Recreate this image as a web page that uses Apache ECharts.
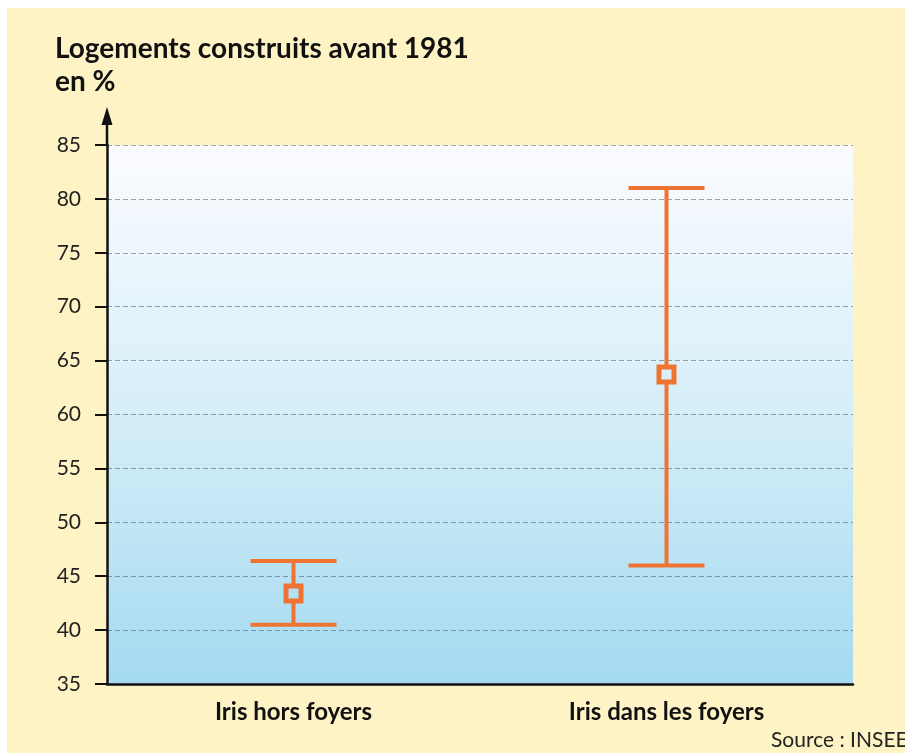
<!DOCTYPE html>
<html>
<head>
<meta charset="utf-8">
<title>Logements construits avant 1981</title>
<script src="https://cdn.jsdelivr.net/npm/echarts@6/dist/echarts.min.js"></script>
<style>
  html, body { margin: 0; padding: 0; background: #ffffff; }
  #chart { width: 905px; height: 753px; }
</style>
</head>
<body>
<div id="chart"></div>
<script>
// données
const categories = ['Iris hors foyers', 'Iris dans les foyers']
const lowValues = [40.5, 46.0]
const highValues = [46.4, 81.0]
const meanValues = [43.4, 63.7]
const yTicks = [35, 40, 45, 50, 55, 60, 65, 70, 75, 80, 85]

const orange = '#ef7433'
const yellow = '#fdf3c4'
const font = 'Lato, "Open Sans", sans-serif'
const capHalf = [43, 38] // demi-largeur des barres horizontales

const chart = echarts.init(document.getElementById('chart'))

const renderItem = (params, api) => {
  const i = api.value(0)
  const x = api.coord([i, 0])[0]
  const yLow = api.coord([i, api.value(1)])[1]
  const yHigh = api.coord([i, api.value(2)])[1]
  const yMean = api.coord([i, api.value(3)])[1]
  const half = capHalf[params.dataIndex]
  const sq = 15
  const lineStyle = { stroke: orange, lineWidth: 4 }
  return {
    type: 'group',
    children: [
      { type: 'line', shape: { x1: x, y1: yHigh, x2: x, y2: yMean - sq / 2 }, style: lineStyle },
      { type: 'line', shape: { x1: x, y1: yMean + sq / 2, x2: x, y2: yLow }, style: lineStyle },
      { type: 'line', shape: { x1: x - half, y1: yHigh, x2: x + half, y2: yHigh }, style: lineStyle },
      { type: 'line', shape: { x1: x - half, y1: yLow, x2: x + half, y2: yLow }, style: lineStyle },
      {
        type: 'rect',
        shape: { x: x - sq / 2, y: yMean - sq / 2, width: sq, height: sq },
        style: { fill: 'none', stroke: orange, lineWidth: 5 },
      },
    ],
  }
}

const option = {
  backgroundColor: 'transparent',
  animation: false,
  graphic: [
    {
      type: 'rect',
      z: -10,
      silent: true,
      shape: { x: 7, y: 8, width: 905, height: 753 },
      style: { fill: yellow },
    },
    {
      type: 'text',
      left: 55,
      top: 32,
      style: {
        text: 'Logements construits avant 1981\nen %',
        font: 'bold 28px ' + font,
        fill: '#111',
        lineHeight: 33,
      },
    },
    {
      type: 'text',
      left: 771,
      top: 730,
      style: { text: 'Source : INSEE', font: '21px ' + font, fill: '#222' },
    },
    // prolongement de l'axe vertical et flèche
    {
      type: 'line',
      shape: { x1: 107, y1: 146, x2: 107, y2: 120 },
      style: { stroke: '#111', lineWidth: 2.5 },
    },
    {
      type: 'polygon',
      shape: { points: [[107, 107], [101.5, 125], [112.5, 125]] },
      style: { fill: '#111' },
    },
  ],
  grid: {
    left: 107,
    right: 52,
    top: 145,
    bottom: 69,
    show: true,
    borderWidth: 0,
    backgroundColor: new echarts.graphic.LinearGradient(0, 0, 0, 1, [
      { offset: 0, color: '#fcfcff' },
      { offset: 0.5, color: '#d5eef8' },
      { offset: 1, color: '#a4daf1' },
    ]),
  },
  xAxis: {
    type: 'category',
    data: categories,
    boundaryGap: true,
    axisLine: { lineStyle: { color: '#111', width: 2.5 } },
    axisTick: { alignWithLabel: true, length: 10, lineStyle: { color: '#111', width: 2.5 } },
    axisLabel: {
      color: '#111',
      fontFamily: font,
      fontWeight: 'bold',
      fontSize: 24,
      margin: 16,
    },
    splitLine: { show: false },
  },
  yAxis: {
    type: 'value',
    min: yTicks[0],
    max: yTicks[yTicks.length - 1],
    interval: 5,
    axisLine: { show: true, lineStyle: { color: '#111', width: 2.5 } },
    axisTick: { show: true, length: 12, lineStyle: { color: '#111', width: 2 } },
    axisLabel: {
      color: '#222',
      fontFamily: font,
      fontSize: 21,
      margin: 26,
    },
    splitLine: {
      show: true,
      lineStyle: { color: 'rgba(40, 60, 70, 0.45)', type: [5, 3], width: 1 },
    },
  },
  series: [
    {
      type: 'custom',
      renderItem,
      encode: { x: 0, y: [1, 2, 3] },
      data: categories.map((c, i) => [i, lowValues[i], highValues[i], meanValues[i]]),
    },
  ],
}

chart.setOption(option)
</script>
</body>
</html>
